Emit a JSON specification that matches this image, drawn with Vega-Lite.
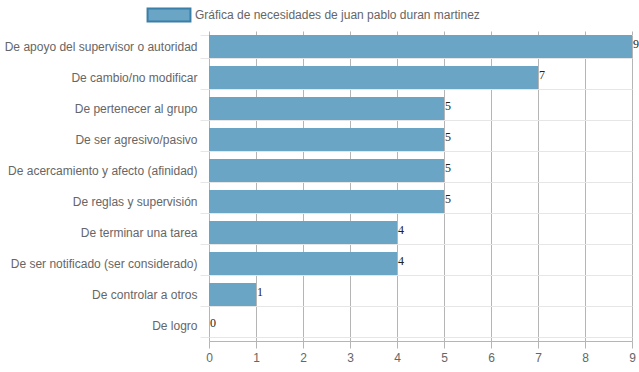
{
  "$schema": "https://vega.github.io/schema/vega-lite/v6.json",
  "width": 423,
  "height": 310,
  "autosize": {"type": "none"},
  "padding": {"left": 209, "top": 31, "right": 7, "bottom": 31},
  "config": {
    "view": {"stroke": null},
    "font": "Liberation Sans",
    "axis": {"labelFont": "Liberation Sans", "labelFontSize": 12, "labelColor": "#666666", "titleFontSize": 12}
  },
  "data": {
    "values": [
      {"necesidad": "De apoyo del supervisor o autoridad", "valor": 9},
      {"necesidad": "De cambio/no modificar", "valor": 7},
      {"necesidad": "De pertenecer al grupo", "valor": 5},
      {"necesidad": "De ser agresivo/pasivo", "valor": 5},
      {"necesidad": "De acercamiento y afecto (afinidad)", "valor": 5},
      {"necesidad": "De reglas y supervisión", "valor": 5},
      {"necesidad": "De terminar una tarea", "valor": 4},
      {"necesidad": "De ser notificado (ser considerado)", "valor": 4},
      {"necesidad": "De controlar a otros", "valor": 1},
      {"necesidad": "De logro", "valor": 0}
    ]
  },
  "encoding": {
    "y": {
      "field": "necesidad", "type": "nominal", "sort": null, "title": null,
      "scale": {"paddingInner": 0.26, "paddingOuter": 0.13},
      "axis": {"tickBand": "extent", "grid": true, "gridColor": "#e6e6e6", "tickColor": "#e6e6e6", "tickSize": 9, "domain": false, "labelPadding": 3, "labelLimit": 300}
    }
  },
  "layer": [
    {
      "mark": {"type": "bar", "fill": "#6ba5c5", "stroke": "#3a7fa8", "strokeWidth": 0},
      "encoding": {
        "x": {
          "field": "valor", "type": "quantitative", "title": null,
          "scale": {"domain": [0, 9], "nice": false},
          "axis": {"tickCount": 9, "grid": true, "gridColor": "#b5b5b5", "tickColor": "#b5b5b5", "domainColor": "#b5b5b5", "tickSize": 7, "labelPadding": 4, "labelFlush": false}
        },
        "color": {
          "datum": "Gráfica de necesidades de juan pablo duran martinez",
          "scale": {"range": ["#6ba5c5"]},
          "legend": {
            "title": null,
            "orient": "none",
            "legendX": -54,
            "legendY": -30,
            "symbolType": "M-1.65,-0.5H1.65V0.5H-1.65Z",
            "symbolSize": 676,
            "symbolStrokeColor": "#3a7fa8",
            "symbolStrokeWidth": 2,
            "symbolFillColor": "#6ba5c5",
            "symbolOpacity": 1,
            "labelFontSize": 12,
            "labelColor": "#666666",
            "labelFont": "Liberation Sans",
            "labelOffset": 12,
            "labelLimit": 400
          }
        }
      }
    },
    {
      "mark": {"type": "text", "align": "left", "baseline": "middle", "dx": 1, "dy": -3, "font": "Liberation Serif", "fontSize": 12, "color": "#222222"},
      "encoding": {
        "x": {"field": "valor", "type": "quantitative"},
        "text": {"field": "valor", "type": "quantitative"}
      }
    }
  ]
}
